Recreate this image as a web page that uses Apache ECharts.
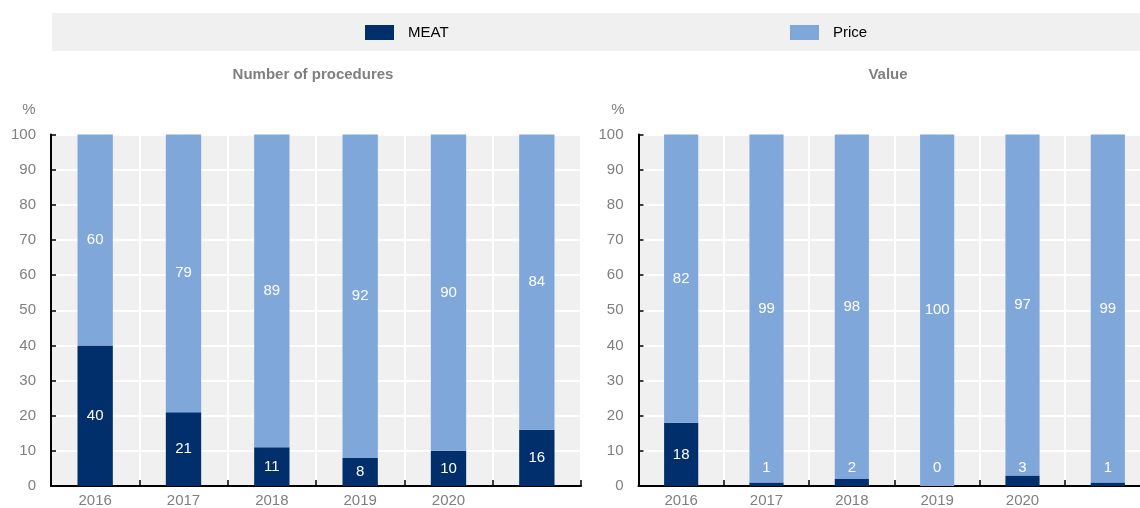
<!DOCTYPE html>
<html>
<head>
<meta charset="utf-8">
<script src="https://cdn.jsdelivr.net/npm/echarts@6/dist/echarts.min.js"></script>
<style>
html,body{margin:0;padding:0;background:#fff;}
#chart{width:1140px;height:508px;}
</style>
</head>
<body>
<div id="chart"></div>
<script>
var categories = ['2016', '2017', '2018', '2019', '2020', ''];
var procMeat  = [40, 21, 11, 8, 10, 16];
var procPrice = [60, 79, 89, 92, 90, 84];
var valueMeat  = [18, 1, 2, 0, 3, 1];
var valuePrice = [82, 99, 98, 100, 97, 99];
var yTicks = [0, 10, 20, 30, 40, 50, 60, 70, 80, 90, 100];

var FONT = "'Liberation Sans', Arial, sans-serif";
var DARK = '#002F6C';
var LIGHT = '#7FA7D9';
var GRAYTXT = '#7F7F7F';

function meatData(arr) {
  return arr.map(function (v) {
    if (v < 5) {
      return { value: v, label: { position: 'insideBottom', distance: 11 } };
    }
    return v;
  });
}

function xAxis(idx) {
  return {
    type: 'category', gridIndex: idx, data: categories,
    axisLine: { show: true, lineStyle: { color: '#000', width: 2 } },
    axisTick: { show: true, inside: true, length: 6, lineStyle: { color: '#000', width: 1.5 } },
    axisLabel: { color: GRAYTXT, fontFamily: FONT, fontSize: 15, margin: 7 },
    splitLine: { show: true, lineStyle: { color: '#fff', width: 2 } }
  };
}
function yAxis(idx) {
  return {
    type: 'value', gridIndex: idx, min: 0, max: 100, interval: 10,
    axisLine: { show: true, lineStyle: { color: '#000', width: 2 } },
    axisTick: { show: true, inside: true, length: 5, lineStyle: { color: '#000', width: 1.5 } },
    axisLabel: { color: GRAYTXT, fontFamily: FONT, fontSize: 15, margin: 15,
      formatter: function (v) { return yTicks.indexOf(v) >= 0 ? String(v) : ''; } },
    splitLine: { show: true, lineStyle: { color: '#fff', width: 2 } }
  };
}
function barSeries(name, data, idx, stack, color) {
  return {
    name: name, type: 'bar', xAxisIndex: idx, yAxisIndex: idx, stack: stack,
    data: data, barWidth: '40%',
    itemStyle: { color: color },
    label: { show: true, position: 'inside', color: '#fff', fontFamily: FONT, fontSize: 15 },
    emphasis: { disabled: true }
  };
}

var chart = echarts.init(document.getElementById('chart'), null, { renderer: 'canvas' });
chart.setOption({
  animation: false,
  graphic: [{
    type: 'rect', left: 52, top: 13, z: -10,
    shape: { width: 1088, height: 38 },
    style: { fill: '#F0F0F0' }
  }],
  title: [
    { text: 'Number of procedures', left: 313, top: 67, textAlign: 'center', padding: 0,
      textStyle: { color: GRAYTXT, fontFamily: FONT, fontSize: 15, fontWeight: 'bold' } },
    { text: 'Value', left: 888, top: 67, textAlign: 'center', padding: 0,
      textStyle: { color: GRAYTXT, fontFamily: FONT, fontSize: 15, fontWeight: 'bold' } },
    { text: '%', left: 29, top: 102, textAlign: 'center', padding: 0,
      textStyle: { color: GRAYTXT, fontFamily: FONT, fontSize: 15, fontWeight: 'normal' } },
    { text: '%', left: 618, top: 102, textAlign: 'center', padding: 0,
      textStyle: { color: GRAYTXT, fontFamily: FONT, fontSize: 15, fontWeight: 'normal' } }
  ],
  legend: [
    { data: ['MEAT'], left: 365, top: 25, padding: 0, icon: 'rect', itemWidth: 29, itemHeight: 15,
      selectedMode: false,
      textStyle: { color: '#000', fontFamily: FONT, fontSize: 15, padding: [0, 0, 0, 9] } },
    { data: ['Price'], left: 790, top: 25, padding: 0, icon: 'rect', itemWidth: 29, itemHeight: 15,
      selectedMode: false,
      textStyle: { color: '#000', fontFamily: FONT, fontSize: 15, padding: [0, 0, 0, 9] } }
  ],
  grid: [
    { left: 51, width: 530, top: 134.5, height: 351.5, show: true, backgroundColor: '#F0F0F0', borderWidth: 0,
      outerBoundsMode: 'none', containLabel: false },
    { left: 638.5, width: 512, top: 134.5, height: 351.5, show: true, backgroundColor: '#F0F0F0', borderWidth: 0,
      outerBoundsMode: 'none', containLabel: false }
  ],
  xAxis: [xAxis(0), xAxis(1)],
  yAxis: [yAxis(0), yAxis(1)],
  series: [
    barSeries('MEAT', meatData(procMeat), 0, 'a', DARK),
    barSeries('Price', procPrice, 0, 'a', LIGHT),
    barSeries('MEAT', meatData(valueMeat), 1, 'b', DARK),
    barSeries('Price', valuePrice, 1, 'b', LIGHT)
  ]
});
</script>
</body>
</html>
